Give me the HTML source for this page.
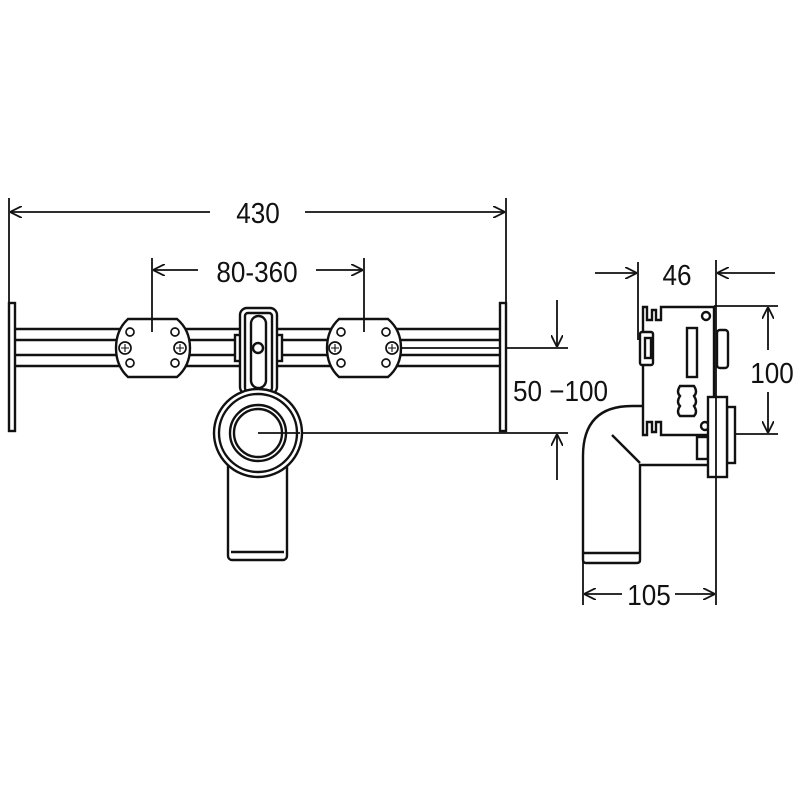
<!DOCTYPE html>
<html><head><meta charset="utf-8"><style>
html,body{margin:0;padding:0;background:#fff;}
svg{display:block}
text{font-family:"Liberation Sans",sans-serif;fill:#111;}
</style></head><body>
<svg width="800" height="800" viewBox="0 0 800 800" xmlns="http://www.w3.org/2000/svg">
<defs>
<marker id="a" viewBox="0 0 12 12" refX="12" refY="6" markerWidth="12" markerHeight="12" markerUnits="userSpaceOnUse" orient="auto">
<path d="M0,0 L12,6 L0,12" fill="none" stroke="#111" stroke-width="1.8"/>
</marker>
</defs>
<g stroke="#111" stroke-width="1.8" fill="none">
<line x1="9" y1="198" x2="9" y2="303"/>
<line x1="506" y1="198" x2="506" y2="303"/>
<line x1="210" y1="212" x2="10" y2="212" marker-end="url(#a)"/>
<line x1="305" y1="212" x2="505" y2="212" marker-end="url(#a)"/>
<line x1="152" y1="258" x2="152" y2="332"/>
<line x1="364" y1="258" x2="364" y2="332"/>
<line x1="198" y1="270" x2="153" y2="270" marker-end="url(#a)"/>
<line x1="316" y1="270" x2="363" y2="270" marker-end="url(#a)"/>
<line x1="392" y1="348" x2="568" y2="348"/>
<line x1="258" y1="433" x2="568" y2="433"/>
<line x1="557" y1="300" x2="557" y2="347" marker-end="url(#a)"/>
<line x1="557" y1="480" x2="557" y2="434" marker-end="url(#a)"/>
</g>
<g stroke="#111" stroke-width="2.4" fill="#fff">
<rect x="9" y="303" width="6" height="128"/>
<rect x="500" y="303" width="6" height="128"/>
</g>
<g stroke="#111" stroke-width="2.6">
<line x1="15" y1="329" x2="500" y2="329"/>
<line x1="15" y1="340" x2="500" y2="340"/>
<line x1="15" y1="355" x2="500" y2="355"/>
<line x1="15" y1="366" x2="500" y2="366"/>
</g>
<g stroke="#111" stroke-width="2.4" fill="#fff">
<path d="M128,319 H177 Q190,330 190,348 Q190,366 177,377 H128 Q116,366 116,348 Q116,330 128,319 Z"/>
<path d="M339,319 H388 Q401,330 401,348 Q401,366 388,377 H339 Q327,366 327,348 Q327,330 339,319 Z"/>
</g>
<g stroke="#111" stroke-width="1.7" fill="#fff">
<circle cx="130" cy="332" r="4"/><circle cx="175" cy="332" r="4"/>
<circle cx="130" cy="363" r="4"/><circle cx="175" cy="363" r="4"/>
<circle cx="341" cy="332" r="4"/><circle cx="386" cy="332" r="4"/>
<circle cx="341" cy="363" r="4"/><circle cx="386" cy="363" r="4"/>
<circle cx="125" cy="348" r="6"/><circle cx="180" cy="348" r="6"/>
<circle cx="335" cy="348" r="6"/><circle cx="392" cy="348" r="6"/>
</g>
<g stroke="#111" stroke-width="1.1">
<path d="M121,348h8M125,344v8M176,348h8M180,344v8M331,348h8M335,344v8M388,348h8M392,344v8"/>
<line x1="152" y1="319" x2="152" y2="332" stroke-width="1.8"/>
<line x1="364" y1="319" x2="364" y2="332" stroke-width="1.8"/>
</g>
<g stroke="#111" stroke-width="2.4" fill="#fff">
<rect x="235" y="335" width="6" height="26"/>
<rect x="276" y="335" width="6" height="26"/>
<rect x="240" y="308" width="37" height="86" rx="7"/>
<rect x="245" y="313" width="27" height="78" rx="3"/>
<rect x="251" y="316" width="15" height="72" rx="7.5"/>
<circle cx="258" cy="348" r="5"/>
</g>
<g stroke="#111" stroke-width="2.4" fill="#fff">
<path d="M232,470 q-6,-8 2,-10 M284,470 q6,-8 -2,-10"/>
<rect x="228" y="462" width="59" height="98" rx="4"/>
<line x1="231" y1="552" x2="284" y2="552"/>
<circle cx="258" cy="433" r="44"/>
<circle cx="258" cy="433" r="39"/>
<circle cx="258" cy="433" r="28"/>
<circle cx="258" cy="433" r="24"/>
</g>
<line x1="258" y1="433" x2="300" y2="433" stroke="#111" stroke-width="1.8"/>

<g stroke="#111" stroke-width="1.8" fill="none">
<line x1="638" y1="262" x2="638" y2="340"/>
<line x1="716" y1="260" x2="716" y2="605"/>
<line x1="595" y1="273" x2="637" y2="273" marker-end="url(#a)"/>
<line x1="775" y1="273" x2="717" y2="273" marker-end="url(#a)"/>
<line x1="714" y1="306" x2="778" y2="306"/>
<line x1="714" y1="434" x2="778" y2="434"/>
<line x1="768" y1="350" x2="768" y2="307" marker-end="url(#a)"/>
<line x1="768" y1="392" x2="768" y2="433" marker-end="url(#a)"/>
<line x1="583" y1="450" x2="583" y2="605"/>
<line x1="622" y1="594" x2="584" y2="594" marker-end="url(#a)"/>
<line x1="675" y1="594" x2="715" y2="594" marker-end="url(#a)"/>
</g>
<g stroke="#111" stroke-width="2.4" fill="#fff">
<path d="M643,406 H632 Q583,406 583,456 V560 Q583,563 586,563 H637 Q640,563 640,560 V465 H708"/>
<line x1="612" y1="435" x2="640" y2="463"/>
<line x1="584" y1="553" x2="639" y2="553"/>
<path d="M643,307 H647 V320 H652 V310 H656 V320 H661 V307 H714 V435 H661 V422 H656 V432 H652 V422 H647 V435 H643 Z"/>
<rect x="640" y="332" width="13" height="33" rx="2"/>
<rect x="645" y="338" width="6" height="20"/>
<rect x="717" y="330" width="11" height="38" rx="3"/>
<rect x="687" y="328" width="10" height="49"/>
<path d="M680,386 q-4,6 0,10 q-4,6 0,10 q-4,6 0,10 h14 q4,-4 0,-10 q4,-4 0,-10 q4,-4 0,-10 Z"/>
<circle cx="706" cy="316" r="4"/>
<circle cx="705" cy="426" r="4"/>
<rect x="697" y="437" width="11" height="22"/>
<rect x="727" y="407" width="8" height="56"/>
<rect x="708" y="397" width="19" height="80"/>
</g>
<line x1="716" y1="397" x2="716" y2="477" stroke="#111" stroke-width="1.8"/>

<g font-size="29">
<text transform="translate(258,223) scale(0.9,1)" text-anchor="middle">430</text>
<text transform="translate(257,282) scale(0.9,1)" text-anchor="middle">80-360</text>
<text transform="translate(513,401) scale(0.9,1)">50 −100</text>
<text transform="translate(677,285) scale(0.9,1)" text-anchor="middle">46</text>
<text transform="translate(772,383) scale(0.9,1)" text-anchor="middle">100</text>
<text transform="translate(649,605) scale(0.9,1)" text-anchor="middle">105</text>
</g>
</svg>
</body></html>
